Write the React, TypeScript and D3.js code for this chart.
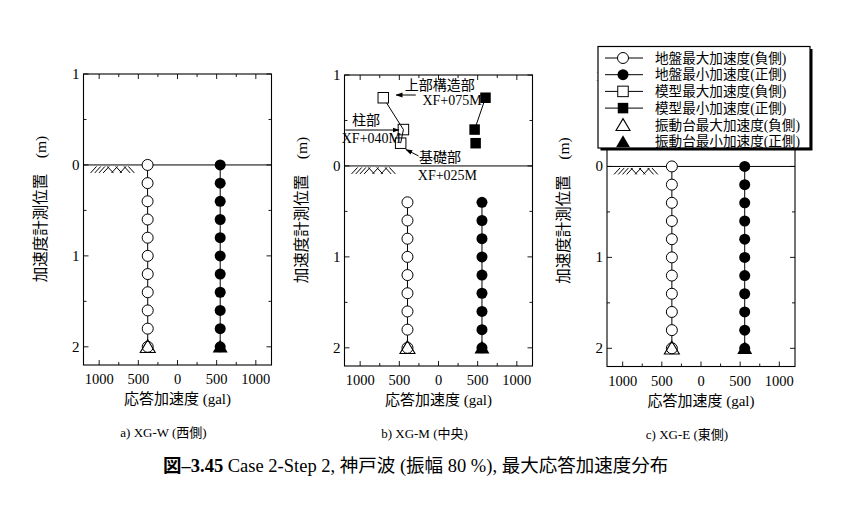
import * as d3 from "d3";

// depth of the accelerometers (m, positive = below ground surface)
const groundDepthA = [0, 0.2, 0.4, 0.6, 0.8, 1.0, 1.2, 1.4, 1.6, 1.8, 2.0];
const groundDepthB = [0.4, 0.6, 0.8, 1.0, 1.2, 1.4, 1.6, 1.8, 2.0];
const groundDepthC = [0, 0.2, 0.4, 0.6, 0.8, 1.0, 1.2, 1.4, 1.6, 1.8, 2.0];

// 地盤最大加速度(負側) / 地盤最小加速度(正側)  (gal)
const groundNegA = [382, 382, 382, 381, 381, 380, 380, 380, 380, 380, 380];
const groundPosA = [545, 545, 545, 545, 545, 545, 545, 545, 545, 545, 545];
const groundNegB = [396, 396, 396, 396, 396, 396, 396, 396, 396];
const groundPosB = [555, 555, 555, 555, 555, 555, 555, 555, 555];
const groundNegC = [372, 372, 372, 372, 372, 372, 372, 372, 372, 372, 372];
const groundPosC = [558, 558, 558, 558, 558, 558, 558, 558, 558, 558, 558];

// 振動台 (shaking table) at 2.0 m
const tableDepth = 2.0;
const tableNeg = [380, 396, 372];
const tablePos = [545, 555, 558];

// 模型 (model) in XG-M, heights above ground shown as negative depth
const modelDepth = [-0.75, -0.4, -0.25];
const modelNeg = [705, 448, 483];
const modelPos = [600, 461, 474];

const xTickValues = [-1000, -500, 0, 500, 1000];
const xMinorValues = [-1000, -750, -500, -250, 0, 250, 500, 750, 1000];
const yTickValues = [-1, 0, 1, 2];
const yMinorValues = [-1, -0.5, 0, 0.5, 1, 1.5, 2];

const captions = ["a) XG-W (西側)", "b) XG-M (中央)", "c) XG-E (東側)"];
const legendLabels = [
  "地盤最大加速度(負側)",
  "地盤最小加速度(正側)",
  "模型最大加速度(負側)",
  "模型最小加速度(正側)",
  "振動台最大加速度(負側)",
  "振動台最小加速度(正側)",
];

const annotations = [
  { text: "上部構造部", x: -430, y: -0.835 },
  { text: "XF+075M", x: -205, y: -0.675 },
  { text: "柱部", x: -1104, y: -0.45 },
  { text: "XF+040M", x: -1235, y: -0.25 },
  { text: "基礎部", x: -250, y: -0.045 },
  { text: "XF+025M", x: -264, y: 0.155 },
];
const arrows = [
  { x1: -290, y1: -0.78, x2: -540, y2: -0.78 },
  { x1: -1190, y1: -0.395, x2: -505, y2: -0.395 },
  { x1: -255, y1: -0.11, x2: -415, y2: -0.18 },
];

const panels = [
  { left: 83.5, top: 74, depth: groundDepthA, neg: groundNegA, pos: groundPosA, model: false },
  { left: 344.5, top: 75, depth: groundDepthB, neg: groundNegB, pos: groundPosB, model: true },
  { left: 607, top: 75.5, depth: groundDepthC, neg: groundNegC, pos: groundPosC, model: false },
];

const W = 188;
const H = 291;
const FONT = "'Liberation Serif', 'Times New Roman', 'Noto Sans CJK JP', serif";
const R = 5.5;
const SQ = 10.5;

function tri(cx: number, cy: number, s = 7.5) {
  return `M${cx},${cy - s * 0.95} L${cx + s},${cy + s * 0.75} L${cx - s},${cy + s * 0.75} Z`;
}

function Hatch({ x, y }: { x: number; y: number }) {
  const dirs = ["/", "/", "/", "/", "\\", "/", "\\", "/", "\\", "\\"];
  return (
    <g stroke="#000" strokeWidth={1}>
      {dirs.map((d, i) => {
        const px = x + i * 4.2;
        return d === "/" ? (
          <line key={i} x1={px} y1={y + 8} x2={px + 6} y2={y + 1.5} />
        ) : (
          <line key={i} x1={px} y1={y + 1.5} x2={px + 6} y2={y + 8} />
        );
      })}
    </g>
  );
}

function Panel({ p, i }: { p: (typeof panels)[number]; i: number }) {
  const x = d3.scaleLinear().domain([-1200, 1200]).range([p.left, p.left + W]);
  const y = d3.scaleLinear().domain([-1, 2.2]).range([p.top, p.top + H]);
  const bottom = p.top + H;
  const right = p.left + W;
  const line = d3
    .line<[number, number]>()
    .x((d) => x(d[0]))
    .y((d) => y(d[1]));
  const negPts = p.depth.map((d, k) => [-p.neg[k], d] as [number, number]);
  const posPts = p.depth.map((d, k) => [p.pos[k], d] as [number, number]);
  const mNeg = modelDepth.map((d, k) => [-modelNeg[k], d] as [number, number]);
  const mPos = modelDepth.map((d, k) => [modelPos[k], d] as [number, number]);

  return (
    <g>
      <rect x={p.left} y={p.top} width={W} height={H} fill="none" stroke="#000" strokeWidth={1.1} />
      {/* ticks, inward on all four sides */}
      <g stroke="#000" strokeWidth={0.9}>
        {xMinorValues.map((v) => {
          const len = v % 500 === 0 ? 5 : 3;
          return (
            <g key={"x" + v}>
              <line x1={x(v)} x2={x(v)} y1={bottom} y2={bottom - len} />
              <line x1={x(v)} x2={x(v)} y1={p.top} y2={p.top + len} />
            </g>
          );
        })}
        {yMinorValues.map((v) => {
          const len = Number.isInteger(v) ? 5 : 3;
          return (
            <g key={"y" + v}>
              <line x1={p.left} x2={p.left + len} y1={y(v)} y2={y(v)} />
              <line x1={right} x2={right - len} y1={y(v)} y2={y(v)} />
            </g>
          );
        })}
      </g>
      <g fontFamily={FONT} fontSize={14.5} fill="#000">
        {xTickValues.map((v) => (
          <text key={v} x={x(v)} y={bottom + 19} textAnchor="middle">
            {Math.abs(v)}
          </text>
        ))}
        {yTickValues.map((v) => (
          <text key={v} x={p.left - 4} y={y(v) + 5} textAnchor="end" fontSize={15}>
            {Math.abs(v)}
          </text>
        ))}
      </g>
      <text
        transform={`translate(${p.left - 38},${p.top + 135}) rotate(-90)`}
        textAnchor="middle"
        fontFamily={FONT}
        fontSize={15.5}
      >
        加速度計測位置　(m)
      </text>
      <text x={p.left + W / 2} y={bottom + 39} textAnchor="middle" fontFamily={FONT} fontSize={15}>
        応答加速度 (gal)
      </text>
      <text x={p.left + W / 2 - 14} y={bottom + 72} textAnchor="middle" fontFamily={FONT} fontSize={13}>
        {captions[i]}
      </text>

      {/* ground surface */}
      <line x1={p.left} x2={right} y1={y(0)} y2={y(0)} stroke="#000" strokeWidth={1} />
      <Hatch x={x(-1110)} y={y(0)} />

      {/* ground accelerometers */}
      <path d={line(negPts) ?? ""} fill="none" stroke="#000" strokeWidth={1} />
      <path d={line(posPts) ?? ""} fill="none" stroke="#000" strokeWidth={1} />
      {negPts.map((d, k) => (
        <circle key={"n" + k} cx={x(d[0])} cy={y(d[1])} r={R} fill="#fff" stroke="#000" strokeWidth={1} />
      ))}
      {posPts.map((d, k) => (
        <circle key={"p" + k} cx={x(d[0])} cy={y(d[1])} r={R} fill="#000" />
      ))}

      {/* shaking table */}
      <path d={tri(x(-tableNeg[i]), y(tableDepth))} fill="none" stroke="#000" strokeWidth={1.1} />
      <path d={tri(x(tablePos[i]), y(tableDepth))} fill="#000" />

      {p.model && (
        <g>
          <path d={line(mNeg.slice(0, 2)) ?? ""} fill="none" stroke="#000" strokeWidth={1} />
          <path d={line(mNeg.slice(1)) ?? ""} fill="none" stroke="#000" strokeWidth={1} />
          <path d={line(mPos.slice(0, 2)) ?? ""} fill="none" stroke="#000" strokeWidth={1} />
          {mNeg.map((d, k) => (
            <rect
              key={"mn" + k}
              x={x(d[0]) - SQ / 2}
              y={y(d[1]) - SQ / 2}
              width={SQ}
              height={SQ}
              fill={k === 0 ? "#fff" : "none"}
              stroke="#000"
              strokeWidth={1}
            />
          ))}
          {mPos.map((d, k) => (
            <rect key={"mp" + k} x={x(d[0]) - SQ / 2} y={y(d[1]) - SQ / 2} width={SQ} height={SQ} fill="#000" />
          ))}
          <g fontFamily={FONT} fontSize={14} fill="#000">
            {annotations.map((a) => (
              <text key={a.text} x={x(a.x)} y={y(a.y)}>
                {a.text}
              </text>
            ))}
          </g>
          <g stroke="#000" strokeWidth={1}>
            {arrows.map((a, k) => (
              <line key={k} x1={x(a.x1)} y1={y(a.y1)} x2={x(a.x2)} y2={y(a.y2)} markerEnd="url(#arrowHead)" />
            ))}
          </g>
        </g>
      )}
    </g>
  );
}

function Legend() {
  const lx = 598;
  const ly = 46.5;
  const lw = 212;
  const lh = 101.5;
  const rowY = d3.scaleLinear().domain([0, 5]).range([ly + 11.5, ly + 95]);
  const mx = 623;
  return (
    <g>
      <rect x={lx + 2.5} y={ly + 2.5} width={lw} height={lh} fill="#000" />
      <rect x={lx} y={ly} width={lw} height={lh} fill="#fff" stroke="#000" strokeWidth={1.2} />
      {legendLabels.map((t, k) => {
        const cy = rowY(k);
        return (
          <g key={t}>
            {k < 4 && <line x1={605} x2={643} y1={cy} y2={cy} stroke="#000" strokeWidth={1} />}
            {k === 0 && <circle cx={mx} cy={cy} r={R} fill="#fff" stroke="#000" />}
            {k === 1 && <circle cx={mx} cy={cy} r={R} fill="#000" />}
            {k === 2 && <rect x={mx - SQ / 2} y={cy - SQ / 2} width={SQ} height={SQ} fill="#fff" stroke="#000" />}
            {k === 3 && <rect x={mx - SQ / 2} y={cy - SQ / 2} width={SQ} height={SQ} fill="#000" />}
            {k === 4 && <path d={tri(mx, cy + 0.5, 7)} fill="#fff" stroke="#000" strokeWidth={1.1} />}
            {k === 5 && <path d={tri(mx, cy + 0.5, 7)} fill="#000" />}
            <text x={655} y={cy + 4.7} fontFamily={FONT} fontSize={13.6}>
              {t}
            </text>
          </g>
        );
      })}
    </g>
  );
}

export default function App() {
  return (
    <svg
      width={852}
      height={519}
      viewBox="0 0 852 519"
      style={{ position: "absolute", left: 0, top: 0, background: "#fff" }}
    >
      <defs>
        <marker id="arrowHead" viewBox="0 0 10 10" refX={9} refY={5} markerWidth={7} markerHeight={7} orient="auto">
          <path d="M0,1.5 L10,5 L0,8.5 Z" fill="#000" />
        </marker>
      </defs>
      <rect width={852} height={519} fill="#fff" />
      {panels.map((p, i) => (
        <Panel key={i} p={p} i={i} />
      ))}
      <Legend />
      <text x={163} y={472} fontFamily={FONT} fontSize={18.5}>
        <tspan fontWeight="bold">図–3.45</tspan>
        <tspan> Case 2-Step 2, 神戸波 (振幅 80 %), 最大応答加速度分布</tspan>
      </text>
    </svg>
  );
}
